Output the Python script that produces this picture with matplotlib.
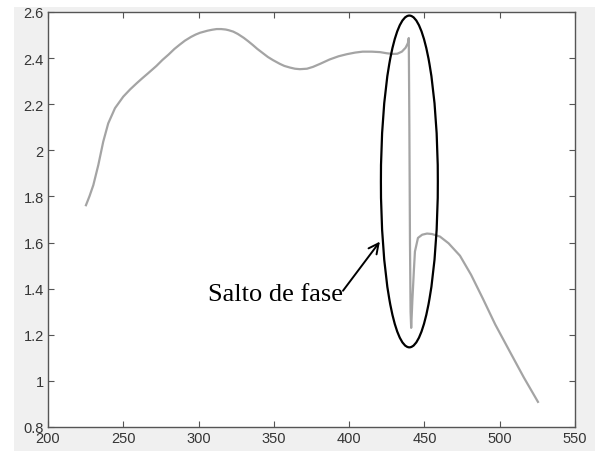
import matplotlib
matplotlib.use("Agg")
import matplotlib.pyplot as plt
from matplotlib.patches import Ellipse, Rectangle

# Data
x_vals = [225.2, 227.5, 230.1, 233.4, 236.7, 240.0, 244.5, 250.0, 254.5, 258.9,
          262.5, 266.6, 272, 276, 280, 284, 287.6, 291, 295, 298, 301, 306, 309,
          312, 315, 318, 320, 323, 326, 330, 333, 336, 339, 343, 346, 349.5, 354,
          357, 360.7, 364, 367.3, 372, 376, 381, 387, 393, 398.5, 404, 409, 415,
          420.5, 425, 429, 432, 435, 437.5, 439, 439.6, 440.0, 440.4, 440.8,
          441.2, 442.0, 443.0, 443.7, 445.7, 448.5, 451.7, 455, 460.3, 466,
          473.6, 481, 488.8, 497, 506.8, 516, 525.4]
y_vals = [1.762, 1.80, 1.849, 1.936, 2.038, 2.117, 2.183, 2.233, 2.264, 2.291,
          2.312, 2.335, 2.366, 2.392, 2.415, 2.440, 2.459, 2.476, 2.492, 2.502,
          2.510, 2.519, 2.523, 2.526, 2.526, 2.524, 2.521, 2.515, 2.505, 2.488,
          2.473, 2.457, 2.440, 2.420, 2.405, 2.391, 2.375, 2.366, 2.359, 2.354,
          2.352, 2.354, 2.362, 2.376, 2.394, 2.408, 2.417, 2.424, 2.428, 2.428,
          2.426, 2.421, 2.418, 2.419, 2.428, 2.445, 2.465, 2.487, 2.10, 1.60,
          1.30, 1.230, 1.35, 1.48, 1.561, 1.620, 1.634, 1.639, 1.637, 1.626,
          1.597, 1.543, 1.460, 1.357, 1.245, 1.126, 1.015, 0.909]

x_ticks = [200, 250, 300, 350, 400, 450, 500, 550]
y_ticks = [0.8, 1, 1.2, 1.4, 1.6, 1.8, 2, 2.2, 2.4, 2.6]
y_tick_labels = ["0.8", "1", "1.2", "1.4", "1.6", "1.8", "2", "2.2", "2.4", "2.6"]
annotation_text = "Salto de fase"

fig = plt.figure(figsize=(5.95, 4.52), dpi=100)
fig.patch.set_facecolor("white")
fig.patches.append(Rectangle((14 / 595, 0), 1 - 14 / 595, (452 - 8) / 452,
                             transform=fig.transFigure, facecolor="#f0f0f0",
                             edgecolor="none", zorder=-10))

ax = fig.add_axes([48 / 595, (452 - 428) / 452, (575 - 48) / 595, (428 - 13) / 452])
ax.set_facecolor("white")
ax.plot(x_vals, y_vals, color="#a4a4a4", lw=1.6, solid_joinstyle="round")

ax.set_xlim(200, 550)
ax.set_ylim(0.8, 2.6)
ax.set_xticks(x_ticks)
ax.set_yticks(y_ticks)
ax.set_yticklabels(y_tick_labels)

axis_color = "#555555"
for s in ax.spines.values():
    s.set_color(axis_color)
    s.set_linewidth(1.0)
ax.tick_params(direction="in", length=4, width=0.8, color=axis_color,
               top=True, right=True, labelsize=10.5, labelcolor="#353535", pad=3)
for lab in ax.get_xticklabels() + ax.get_yticklabels():
    lab.set_fontfamily(["Liberation Sans", "DejaVu Sans"])

ell = Ellipse((440.0, 1.865), width=37.8, height=1.439, facecolor="none",
              edgecolor="black", lw=1.6, zorder=5)
ax.add_patch(ell)

ax.annotate("", xy=(420.4, 1.604), xytext=(395.9, 1.391), textcoords="data",
            arrowprops=dict(arrowstyle="->", color="black", lw=1.4,
                            shrinkA=0, shrinkB=0, mutation_scale=18))
ax.text(395.9, 1.352, annotation_text, ha="right", va="baseline",
        fontsize=19, family=["Liberation Serif", "DejaVu Serif"], color="black")

fig.savefig("out.png", dpi=100, facecolor=fig.get_facecolor())
